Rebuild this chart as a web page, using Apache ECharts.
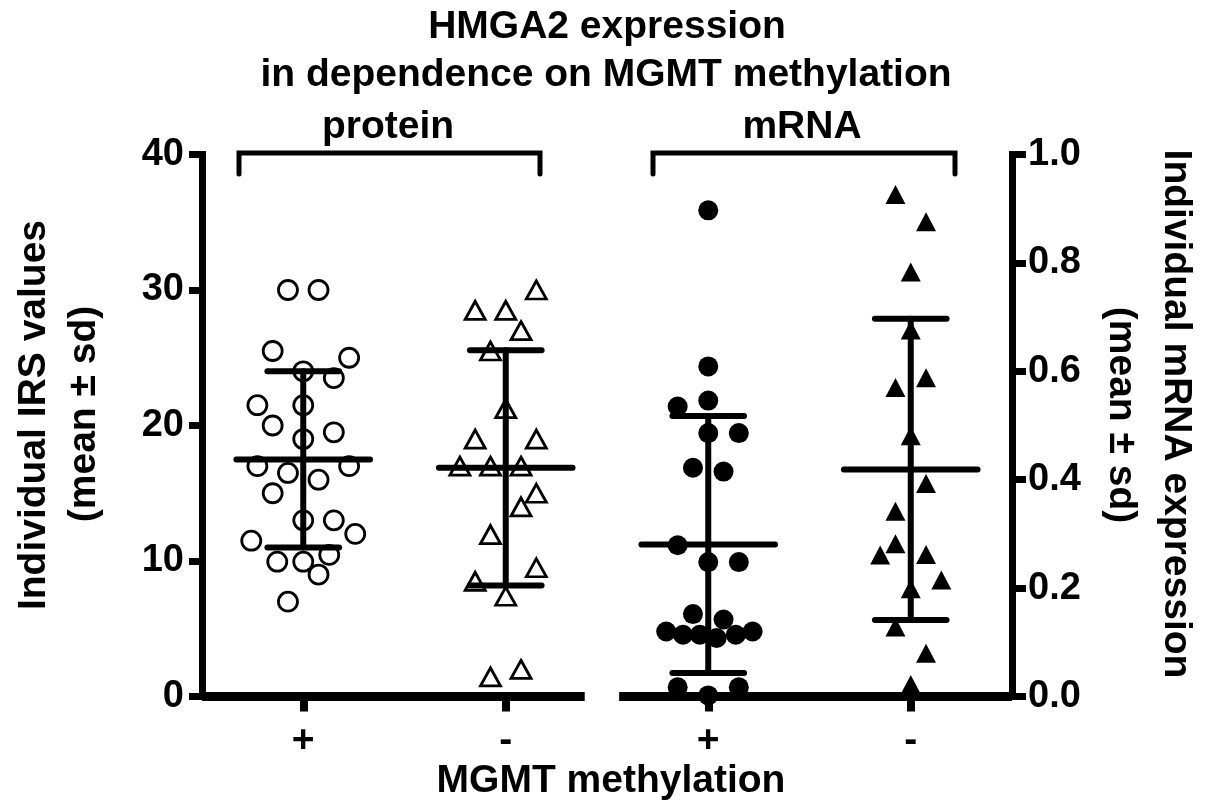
<!DOCTYPE html>
<html><head><meta charset="utf-8">
<script src="https://cdn.jsdelivr.net/npm/echarts@6/dist/echarts.min.js"></script>
<style>html,body{margin:0;padding:0;background:#fff}#c{width:1205px;height:809px}</style>
</head><body><div id="c"></div>
<script>
// ---- data ----
const groupLabels = ['+', '-', '+', '-'];
const leftTicks = [0, 10, 20, 30, 40];
const rightTicks = [0.0, 0.2, 0.4, 0.6, 0.8, 1.0];
// each point: [jitter slot, value]
const proteinPos = [[-1,30.0],[1,30.0],[-2,25.5],[3,25.0],[0,24.0],[2,23.5],[-3,21.5],[0,21.5],[-2,20.0],[2,19.5],[0,19.0],[-3,17.0],[-1,16.5],[3,17.0],[1,16.0],[-2,15.0],[0,13.0],[2,13.0],[3.4,12.0],[-3.4,11.5],[-1.7,9.95],[0,9.95],[1.7,10.45],[1,9.0],[-1,7.0]];
const proteinNeg = [[2,30.0],[-2,28.5],[0,28.5],[1,27.0],[-1,25.5],[0,21.25],[-2,19.0],[2,19.0],[-3,17.0],[-1,17.0],[1,17.0],[2,15.0],[1,14.0],[-1,11.95],[2,9.5],[-2,8.5],[0,7.4],[-1,1.45],[1,2.0]];
const mrnaPos = [[0,0.897],[0,0.609],[-2,0.535],[0,0.546],[0,0.486],[2,0.486],[-1,0.422],[1,0.415],[-2,0.279],[0,0.248],[2,0.248],[-1,0.152],[1,0.142],[-2.75,0.120],[-1.65,0.114],[-0.55,0.114],[0.55,0.108],[1.8,0.114],[2.9,0.120],[-2,0.017],[2,0.017],[0,0.002]];
const mrnaNeg = [[-1,0.926],[1,0.876],[0,0.783],[0,0.676],[-1,0.570],[1,0.588],[0,0.481],[1,0.393],[-1,0.342],[-1,0.282],[-2,0.261],[1,0.262],[2,0.215],[0,0.199],[-1,0.128],[1,0.080],[0,0.022]];
const groupMeans = [17.5, 16.875, 0.2805, 0.419];
const groupSDs = [6.5, 8.675, 0.237, 0.278];
const axisBreak = [2.39, 2.56];

// ---- styles / layout constants ----
const FONT = "'Liberation Sans', Arial, Helvetica, sans-serif";
const SLOT = 0.0755;
const MEAN_HALF = 0.33, CAP_HALF = 0.177;

function pts(arr, g) { return arr.map(p => [g + p[0] * SLOT, p[1]]); }

function errRender(params, api) {
  const g = api.value(0), m = api.value(1), s = api.value(2);
  const c = api.coord([g, m]);
  const t = api.coord([g, m + s]);
  const b = api.coord([g, m - s]);
  const hm = api.size([MEAN_HALF, 0])[0];
  const hc = api.size([CAP_HALF, 0])[0];
  const st = {stroke: '#000', lineWidth: 6, lineCap: 'round'};
  return {type: 'group', children: [
    {type: 'line', shape: {x1: c[0]-hm, y1: c[1], x2: c[0]+hm, y2: c[1]}, style: st},
    {type: 'line', shape: {x1: t[0], y1: t[1], x2: b[0], y2: b[1]}, style: st},
    {type: 'line', shape: {x1: t[0]-hc, y1: t[1], x2: t[0]+hc, y2: t[1]}, style: st},
    {type: 'line', shape: {x1: b[0]-hc, y1: b[1], x2: b[0]+hc, y2: b[1]}, style: st}
  ]};
}

const chart = echarts.init(document.getElementById('c'), null, {renderer: 'canvas'});
const axisLineStyle = {color: '#000', width: 7, cap: 'square'};
const tickLabel = {color: '#000', fontFamily: FONT, fontWeight: 'bold', fontSize: 38};

const option = {
  backgroundColor: '#fff',
  animation: false,
  grid: {left: 202, right: 193, top: 154.5, bottom: 112.5, containLabel: false},
  xAxis: [
    {type: 'category', data: groupLabels, boundaryGap: true,
     axisLine: {show: false},
     axisTick: {show: true, alignWithLabel: true, length: 15, lineStyle: {color: '#000', width: 8}},
     axisLabel: Object.assign({}, tickLabel, {margin: 25, fontSize: 39}),
     splitLine: {show: false}},
    {type: 'value', min: 0.5, max: 4.5, show: false}
  ],
  yAxis: [
    {type: 'value', min: 0, max: 40, interval: 10, position: 'left',
     axisLine: {show: true, lineStyle: axisLineStyle},
     axisTick: {show: true, length: 13, lineStyle: {color: '#000', width: 7}},
     axisLabel: Object.assign({margin: 18}, tickLabel),
     splitLine: {show: false}},
    {type: 'value', min: 0, max: 1, interval: 0.2, position: 'right',
     axisLine: {show: true, lineStyle: axisLineStyle},
     axisTick: {show: true, length: 14, lineStyle: {color: '#000', width: 7}},
     axisLabel: Object.assign({margin: 16, formatter: v => v.toFixed(1)}, tickLabel),
     splitLine: {show: false}}
  ],
  series: [
    {type: 'line', xAxisIndex: 1, yAxisIndex: 0, data: [[0.5, 0], [axisBreak[0], 0]],
     showSymbol: false, symbol: 'none', clip: false, lineStyle: {color: '#000', width: 9, opacity: 1}, z: 1, silent: true},
    {type: 'line', xAxisIndex: 1, yAxisIndex: 0, data: [[axisBreak[1], 0], [4.5, 0]],
     showSymbol: false, symbol: 'none', clip: false, lineStyle: {color: '#000', width: 9, opacity: 1}, z: 1, silent: true},
    {type: 'scatter', xAxisIndex: 1, yAxisIndex: 0, data: pts(proteinPos, 1),
     symbol: 'circle', symbolSize: 19, clip: false,
     itemStyle: {color: 'rgba(255,255,255,0)', borderColor: '#000', borderWidth: 2.8, opacity: 1}, z: 3},
    {type: 'scatter', xAxisIndex: 1, yAxisIndex: 0, data: pts(proteinNeg, 2),
     symbol: 'triangle', symbolSize: [20, 18], clip: false,
     itemStyle: {color: 'rgba(255,255,255,0)', borderColor: '#000', borderWidth: 2.8, opacity: 1}, z: 3},
    {type: 'scatter', xAxisIndex: 1, yAxisIndex: 1, data: pts(mrnaPos, 3),
     symbol: 'circle', symbolSize: 20, clip: false,
     itemStyle: {color: '#000', opacity: 1}, z: 3},
    {type: 'scatter', xAxisIndex: 1, yAxisIndex: 1, data: pts(mrnaNeg, 4),
     symbol: 'triangle', symbolSize: [20, 19], clip: false,
     itemStyle: {color: '#000', opacity: 1}, z: 3},
    {type: 'custom', xAxisIndex: 1, yAxisIndex: 0, renderItem: errRender, clip: false, z: 4,
     data: [[1, groupMeans[0], groupSDs[0]], [2, groupMeans[1], groupSDs[1]]]},
    {type: 'custom', xAxisIndex: 1, yAxisIndex: 1, renderItem: errRender, clip: false, z: 4,
     data: [[3, groupMeans[2], groupSDs[2]], [4, groupMeans[3], groupSDs[3]]]}
  ],
  graphic: [
    {type: 'text', x: 607, y: 27, style: {text: 'HMGA2 expression', fill: '#000', font: 'bold 39px ' + FONT, align: 'center', verticalAlign: 'middle'}},
    {type: 'text', x: 606, y: 75, style: {text: 'in dependence on MGMT methylation', fill: '#000', font: 'bold 39px ' + FONT, align: 'center', verticalAlign: 'middle'}},
    {type: 'text', x: 388, y: 127, style: {text: 'protein', fill: '#000', font: 'bold 39px ' + FONT, align: 'center', verticalAlign: 'middle'}},
    {type: 'text', x: 802, y: 127, style: {text: 'mRNA', fill: '#000', font: 'bold 39px ' + FONT, align: 'center', verticalAlign: 'middle'}},
    {type: 'polyline', shape: {points: [[239, 174], [239, 153], [540, 153], [540, 174]]}, style: {stroke: '#000', lineWidth: 5, fill: null, lineJoin: 'miter', lineCap: 'round'}},
    {type: 'polyline', shape: {points: [[653, 174], [653, 153], [955, 153], [955, 174]]}, style: {stroke: '#000', lineWidth: 5, fill: null, lineJoin: 'miter', lineCap: 'round'}},
    {type: 'text', x: 611, y: 781, style: {text: 'MGMT methylation', fill: '#000', font: 'bold 39px ' + FONT, align: 'center', verticalAlign: 'middle'}},
    {type: 'text', x: 34, y: 415, rotation: Math.PI / 2, style: {text: 'Individual IRS values', fill: '#000', font: 'bold 39px ' + FONT, align: 'center', verticalAlign: 'middle'}},
    {type: 'text', x: 84, y: 414, rotation: Math.PI / 2, style: {text: '(mean \u00b1 sd)', fill: '#000', font: 'bold 39px ' + FONT, align: 'center', verticalAlign: 'middle'}},
    {type: 'text', x: 1176, y: 414, rotation: -Math.PI / 2, style: {text: 'Individual mRNA expression', fill: '#000', font: 'bold 39px ' + FONT, align: 'center', verticalAlign: 'middle'}},
    {type: 'text', x: 1121, y: 415, rotation: -Math.PI / 2, style: {text: '(mean \u00b1 sd)', fill: '#000', font: 'bold 39px ' + FONT, align: 'center', verticalAlign: 'middle'}}
  ]
};
chart.setOption(option);
</script></body></html>
